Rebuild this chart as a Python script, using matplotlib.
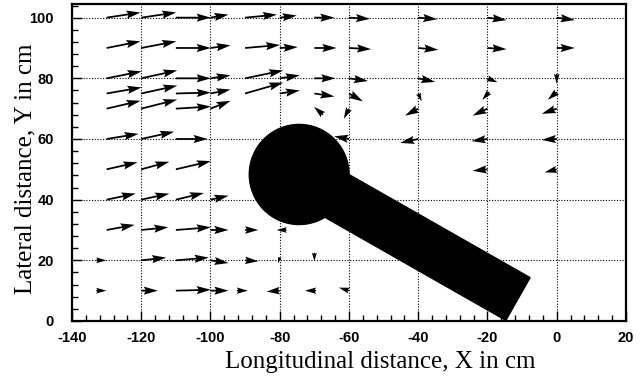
import matplotlib
matplotlib.use("Agg")
import matplotlib.pyplot as plt
import numpy as np
from matplotlib.patches import Ellipse, Polygon
from matplotlib.ticker import MultipleLocator

# measured velocity vectors, drawn as displacement in cm from each point
# columns: x, y, u, v
ROW_100 = [(-130, 100, 9.8, 1.7), (-120, 100, 10.1, 1.7), (-110, 100, 10.1, 0.0),
           (-100, 100, 5.2, 1.0), (-90, 100, 9.2, 1.0), (-80, 100, 4.9, 0.7),
           (-70, 100, 5.8, 0.0), (-60, 100, 6.1, -0.4), (-40, 100, 5.5, -0.5),
           (-20, 100, 5.5, -0.8), (0, 100, 5.2, -0.8)]
ROW_90 = [(-130, 90, 9.8, 2.2), (-120, 90, 10.1, 2.2), (-110, 90, 10.1, 0.0),
          (-100, 90, 5.8, 0.9), (-90, 90, 10.1, 1.0), (-80, 90, 5.2, 0.3),
          (-70, 90, 6.4, 0.0), (-60, 90, 6.4, -0.4), (-40, 90, 5.8, -0.6),
          (-20, 90, 5.5, -0.4), (0, 90, 5.2, 0.0)]
ROW_80 = [(-130, 80, 10.1, 2.3), (-120, 80, 10.4, 2.6), (-110, 80, 10.1, 0.0),
          (-100, 80, 5.8, 1.0), (-90, 80, 11.0, 2.6), (-80, 80, 5.8, 1.0),
          (-70, 80, 6.1, 0.0), (-60, 80, 5.5, -0.9), (-40, 80, 4.9, -1.2),
          (-20, 80, 2.9, -1.3), (0, 81.5, 0.0, -3.3)]
ROW_75 = [(-130, 75, 10.1, 2.0), (-120, 75, 10.4, 2.6), (-110, 75, 10.1, 0.3),
          (-100, 75, 5.8, 1.3), (-90, 75, 11.0, 3.6), (-80, 75, 5.8, 1.0),
          (-70, 75, 5.8, -1.0), (-60, 75, 4.0, -2.6), (-40, 75, 1.0, -2.6),
          (-19.5, 75.5, -2.0, -2.6), (0, 75.5, -2.6, -2.6)]
ROW_70 = [(-130, 70, 9.8, 2.6), (-120, 70, 10.4, 3.0), (-110, 70, 10.1, 0.7),
          (-100, 70, 5.8, 2.6), (-67.5, 68, -2.6, 2.6), (-60, 70, -1.5, -3.3),
          (-40, 70, -3.8, -2.3), (-20, 70, -4.3, -2.3), (0, 70, -4.3, -1.7)]
ROW_60 = [(-130, 60, 9.2, 1.7), (-120, 60, 9.5, 2.4), (-110, 60, 9.2, 0.0),
          (-60, 60, -4.3, 0.9), (-40, 60, -5.2, -1.3), (-20, 60, -4.6, -0.7),
          (0, 60, -4.3, -0.3)]
ROW_50 = [(-130, 50, 8.9, 2.3), (-120, 50, 8.1, 2.5), (-110, 50, 10.1, 2.7),
          (-20, 50, -4.3, -0.5), (0, 50, -3.5, -1.0)]
ROW_40 = [(-130, 40, 8.4, 2.0), (-120, 40, 8.1, 2.0), (-110, 40, 8.1, 2.2),
          (-100, 40, 5.2, 1.3)]
ROW_30 = [(-130, 30, 8.1, 1.7), (-120, 30, 7.8, 0.9), (-110, 30, 10.1, 0.9),
          (-100, 30, 5.2, 0.0), (-90, 30, 3.8, 0.0), (-78, 30, -2.9, 0.0)]
ROW_20 = [(-133, 20, 2.9, 0.0), (-120, 20, 7.2, 0.9), (-110, 20, 9.5, 0.9),
          (-100, 20, 5.2, -0.9), (-90, 20, 3.8, -0.3), (-80, 21, -0.5, -2.0),
          (-70, 22.5, 0.0, -2.8)]
ROW_10 = [(-133, 10, 2.9, 0.0), (-120, 10, 4.8, 0.0), (-110, 10, 10.1, 0.3),
          (-100, 10, 5.2, 0.0), (-92.4, 10, 3.2, 0.0), (-80, 10, -3.8, -0.3),
          (-69.5, 10, -3.2, 0.0), (-60, 10, -2.9, 1.0)]

# obstacle: round head plus a slanted arm (cm)
HEAD_CENTER = (-74.4, 48.3)
HEAD_RX, HEAD_RY = 14.4, 16.5
ARM_X = [-70.95, -7.7, -14.7, -77.9]
ARM_Y = [55.4, 14.3, 0.2, 41.3]

XTICKS = [-140, -120, -100, -80, -60, -40, -20, 0, 20]
YTICKS = [0, 20, 40, 60, 80, 100]

plt.rcParams["axes.unicode_minus"] = False


def main() -> None:
    rows = ROW_100 + ROW_90 + ROW_80 + ROW_75 + ROW_70 + ROW_60 + ROW_50 + ROW_40 + ROW_30 + ROW_20 + ROW_10
    data = np.array(rows, dtype=float)
    x, y, u, v = data.T

    fig = plt.figure(figsize=(6.4, 3.81), dpi=100)
    ax = fig.add_axes([0.1125, 0.1575, 0.8656, 0.832])

    ax.add_patch(Ellipse(HEAD_CENTER, 2 * HEAD_RX, 2 * HEAD_RY, color="black", zorder=3))
    ax.add_patch(Polygon(np.column_stack([ARM_X, ARM_Y]), closed=True, color="black", zorder=3))

    ax.quiver(x, y, u, v, angles="xy", scale_units="xy", scale=1,
              width=0.0032, headwidth=4.6, headlength=8, headaxislength=7,
              color="black", zorder=4)

    ax.set_xlim(-140, 20)
    ax.set_ylim(0, 104.5)
    ax.set_xticks(XTICKS)
    ax.set_yticks(YTICKS)
    ax.xaxis.set_minor_locator(MultipleLocator(4))
    ax.yaxis.set_minor_locator(MultipleLocator(4))
    ax.tick_params(which="both", direction="in", top=False, right=False, width=1)
    ax.tick_params(which="major", length=7)
    ax.tick_params(which="minor", length=4)
    ax.tick_params(axis="x", pad=7)
    ax.tick_params(axis="y", pad=13)
    ax.grid(True, which="major", color="black", linestyle=(0, (1, 1.5)), linewidth=0.8, zorder=1)
    ax.set_axisbelow(True)

    for label in ax.get_xticklabels() + ax.get_yticklabels():
        label.set_fontfamily("Liberation Sans")
        label.set_fontweight("bold")
        label.set_fontsize(10.5)
    for spine in ax.spines.values():
        spine.set_linewidth(1.6)

    ax.set_xlabel("Longitudinal distance, X in cm", fontfamily="Liberation Serif", fontsize=18)
    ax.set_ylabel("Lateral distance, Y in cm", fontfamily="Liberation Serif", fontsize=18)
    ax.xaxis.set_label_coords(0.556, -0.094)
    ax.yaxis.set_label_coords(-0.064, 0.48)

    fig.savefig("out.png", dpi=100)
    plt.close(fig)


if __name__ == "__main__":
    main()
